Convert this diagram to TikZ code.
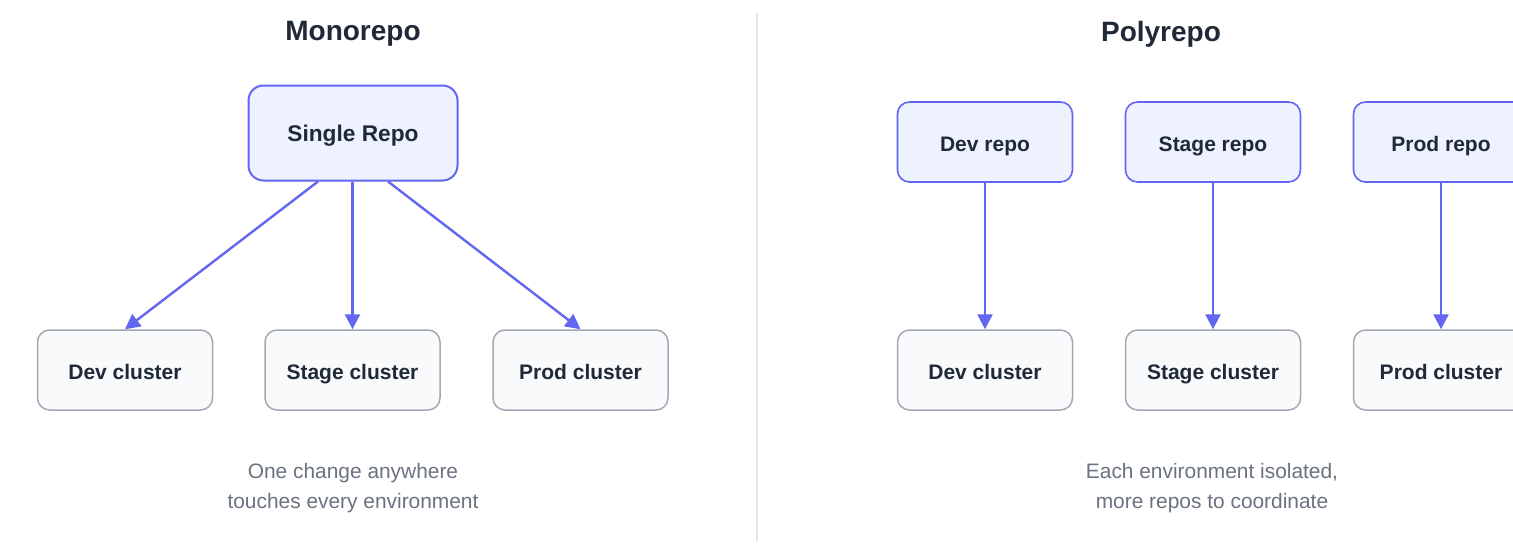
\documentclass[tikz,border=0pt]{standalone}
\usepackage{fontspec}
\setmainfont{Liberation Sans}
\usetikzlibrary{arrows.meta}
\definecolor{repoStroke}{HTML}{6366F1}
\definecolor{repoFill}{HTML}{EEF2FF}
\definecolor{clStroke}{HTML}{A3A8B3}
\definecolor{clFill}{HTML}{F8FAFC}
\definecolor{txt}{HTML}{1F2937}
\definecolor{cap}{HTML}{6B7280}
\definecolor{divc}{HTML}{E2E4EA}
\tikzset{
  repobox/.style={draw=repoStroke, fill=repoFill, line width=1.6pt, rounded corners=12pt,
    minimum width=175pt, minimum height=80pt, inner sep=0pt, text=txt,
    text height=18pt, text depth=0pt,
    font=\fontsize{21}{24}\selectfont\bfseries},
  bigrepo/.style={repobox, line width=2pt, rounded corners=15pt, minimum width=209pt, minimum height=95pt,
    text height=17.6pt, font=\fontsize{22.7}{26}\selectfont\bfseries},
  clbox/.style={draw=clStroke, fill=clFill, line width=1.5pt, rounded corners=12pt,
    minimum width=175pt, minimum height=80pt, inner sep=0pt, text=txt,
    text height=18pt, text depth=0pt,
    font=\fontsize{21}{24}\selectfont\bfseries},
  titletext/.style={text=txt, font=\fontsize{28}{32}\selectfont\bfseries},
  captext/.style={text=cap, align=center, font=\fontsize{20.9}{30}\selectfont},
  conn/.style={draw=repoStroke, line width=2.4pt, -{Triangle[length=15pt,width=15pt]}},
}
\begin{document}
\begin{tikzpicture}[x=1pt,y=-1pt]
\clip (0,0) rectangle (1513,557);
\fill[white] (0,0) rectangle (1513,557);
% divider
\coordinate (dtop) at (757,13);
\coordinate (dbot) at (757,541);
\draw[divc, line width=2pt] (dtop) -- (dbot);
% titles
\node[titletext] (t1) at (353,34) {Monorepo};
\node[titletext] (t2) at (1161,34) {Polyrepo};
% monorepo
\node[bigrepo] (single) at (353,133) {Single Repo};
\node[clbox] (mdev) at (125,370) {Dev cluster};
\node[clbox] (mstage) at (352.5,370) {Stage cluster};
\node[clbox] (mprod) at (580.5,370) {Prod cluster};
\draw[conn] ([xshift=-35pt]single.south) -- (mdev.north);
\draw[conn] ([xshift=-0.5pt]single.south) -- (mstage.north);
\draw[conn] ([xshift=35pt]single.south) -- (mprod.north);
\node[captext] (c1) at (353,488) {One change anywhere\\touches every environment};
% polyrepo
\node[repobox] (pdevr) at (985,142) {Dev repo};
\node[repobox] (pstager) at (1213,142) {Stage repo};
\node[repobox] (pprodr) at (1441,142) {Prod repo};
\node[clbox] (pdev) at (985,370) {Dev cluster};
\node[clbox] (pstage) at (1213,370) {Stage cluster};
\node[clbox] (pprod) at (1441,370) {Prod cluster};
\draw[conn] (pdevr.south) -- (pdev.north);
\draw[conn] (pstager.south) -- (pstage.north);
\draw[conn] (pprodr.south) -- (pprod.north);
\node[captext] (c2) at (1212,488) {Each environment isolated,\\more repos to coordinate};
\end{tikzpicture}
\end{document}
